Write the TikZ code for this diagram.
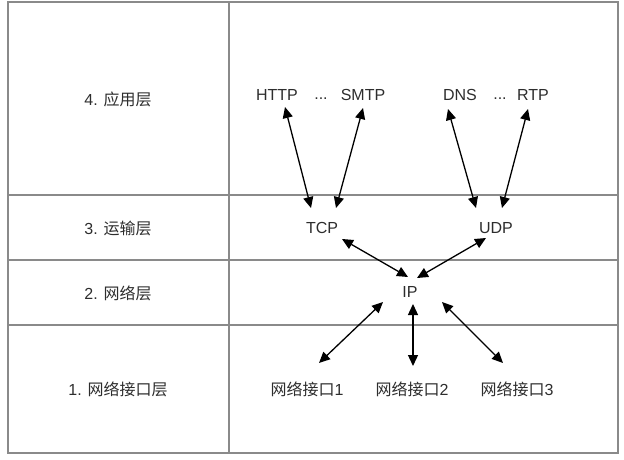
\documentclass[tikz,border=0pt]{standalone}
\usepackage{fontspec}
\setmainfont{Liberation Sans}
\newfontfamily\cjk{Noto Sans CJK SC}
\usetikzlibrary{arrows.meta}
\definecolor{gridgray}{RGB}{138,138,138}
\definecolor{textgray}{RGB}{45,45,45}

\begin{document}
\begin{tikzpicture}[x=1pt, y=1pt,
  grid line/.style={draw=gridgray, line width=1.6pt},
  proto/.style={inner sep=0pt, text=textgray, font=\fontsize{16}{19}\selectfont},
  link/.style={{Triangle[length=11pt,width=10pt]}-{Triangle[length=11pt,width=10pt]}, line width=1.3pt, black}]
  \useasboundingbox (0,0) rectangle (624,459);
  % Table
  \draw[grid line] (8,6) rectangle (618,457);
  \draw[grid line] (229,6) -- (229,457);
  \foreach \y in {264,199,134}
    \draw[grid line] (8,\y) -- (618,\y);
  % Layers
  \node (app) [proto] at (118,360) {4. {\cjk 应用层}};
  \node (trans) [proto] at (118,231) {3. {\cjk 运输层}};
  \node (net) [proto] at (118,166) {2. {\cjk 网络层}};
  \node (link) [proto] at (118,70) {1. {\cjk 网络接口层}};
  % Nodes
  \node (http) [proto] at (277,364) {HTTP};
  \node (dots1) [proto] at (321,360) {...};
  \node (smtp) [proto] at (363,364) {SMTP};
  \node (dns) [proto] at (460,364) {DNS};
  \node (dots2) [proto] at (500,360) {...};
  \node (rtp) [proto] at (533,364) {RTP};
  \node (tcp) [proto] at (322,231) {TCP};
  \node (udp) [proto] at (496,231) {UDP};
  \node (ip) [proto] at (410,167) {IP};
  \node (if1) [proto] at (307,70) {{\cjk 网络接口}1};
  \node (if2) [proto] at (412,70) {{\cjk 网络接口}2};
  \node (if3) [proto] at (517,70) {{\cjk 网络接口}3};
  % Arrow
  \draw[link] ([shift={(8,-12)}]http.center) -- ([shift={(-11,20)}]tcp.center);
  \draw[link] ([shift={(0,-13)}]smtp.center) -- ([shift={(14,20)}]tcp.center);
  \draw[link] ([shift={(-12,-14)}]dns.center) -- ([shift={(-20,20)}]udp.center);
  \draw[link] ([shift={(-5,-14)}]rtp.center) -- ([shift={(6,20)}]udp.center);
  \draw[link] ([shift={(20,-11)}]tcp.center) -- ([shift={(-2,15)}]ip.center);
  \draw[link] ([shift={(-10,-10)}]udp.center) -- ([shift={(7,14)}]ip.center);
  \draw[link] ([shift={(-27,-10)}]ip.center) -- ([shift={(12,26)}]if1.center);
  \draw[link] ([shift={(3,-12)}]ip.center) -- ([shift={(1,23)}]if2.center);
  \draw[link] ([shift={(32,-10)}]ip.center) -- ([shift={(-14,26)}]if3.center);
\end{tikzpicture}
\end{document}
